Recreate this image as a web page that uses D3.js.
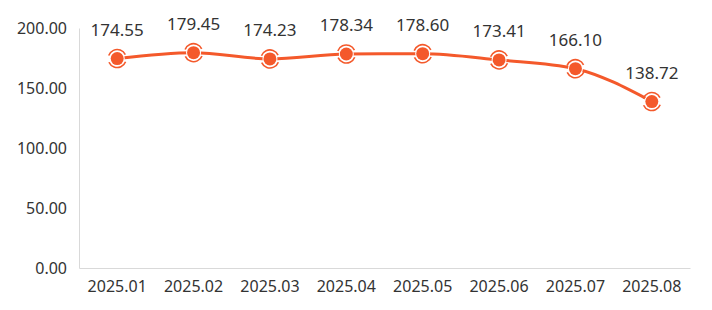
<!DOCTYPE html>
<html>
<head>
<meta charset="utf-8">
<script src="https://cdn.jsdelivr.net/npm/d3@7"></script>
<style>
  body { margin: 0; background: #fff; }
  text { font-family: "Noto Sans", "Open Sans", sans-serif; fill: #333; }
</style>
</head>
<body>
<div id="chart"></div>
<script>
// data
var months = ["2025.01", "2025.02", "2025.03", "2025.04", "2025.05", "2025.06", "2025.07", "2025.08"];
var values = [174.55, 179.45, 174.23, 178.34, 178.60, 173.41, 166.10, 138.72];
var yTicks = [0, 50, 100, 150, 200];

var svgWidth = 712;
var svgHeight = 310;

var margin = { top: 28, right: 22, bottom: 42, left: 79 };
var width = svgWidth - margin.left - margin.right;
var height = svgHeight - margin.top - margin.bottom;

var color = "#f4592b";

var svg = d3.select("#chart")
  .append("svg")
  .attr("width", svgWidth)
  .attr("height", svgHeight);

var chartGroup = svg.append("g")
  .attr("transform", `translate(${margin.left}, ${margin.top})`);

// scales
var xScale = d3.scaleBand()
  .domain(months)
  .range([0, width]);

var yScale = d3.scaleLinear()
  .domain([0, 200])
  .range([height, 0]);

var xPos = d => xScale(d) + xScale.bandwidth() / 2;

// y axis (labels only + left line)
var leftAxis = d3.axisLeft(yScale)
  .tickValues(yTicks)
  .tickFormat(d3.format(".2f"))
  .tickSize(0)
  .tickPadding(12);

var yAxis = chartGroup.append("g").call(leftAxis);
yAxis.select(".domain").attr("stroke", "#d9d9d9");
yAxis.selectAll("text").attr("font-size", "16px").attr("fill", "#333");

// x axis
var bottomAxis = d3.axisBottom(xScale)
  .tickSize(0)
  .tickPadding(13);

var xAxis = chartGroup.append("g")
  .attr("transform", `translate(0, ${height})`)
  .call(bottomAxis);
xAxis.select(".domain").attr("stroke", "#d9d9d9");
xAxis.selectAll("text").attr("font-size", "16px").attr("fill", "#333");

// line
var line = d3.line()
  .x((d, i) => xPos(months[i]))
  .y(d => yScale(d))
  .curve(d3.curveMonotoneX);

chartGroup.append("path")
  .datum(values)
  .attr("fill", "none")
  .attr("stroke", color)
  .attr("stroke-width", 3)
  .attr("d", line);

// markers
var markers = chartGroup.selectAll(".marker")
  .data(values)
  .enter()
  .append("g")
  .attr("class", "marker")
  .attr("transform", (d, i) => `translate(${xPos(months[i])}, ${yScale(d)})`);

markers.append("circle")
  .attr("r", 9)
  .attr("fill", "none")
  .attr("stroke", color)
  .attr("stroke-width", 1.6)
  .attr("stroke-dasharray", "21 7.3")
  .attr("transform", "rotate(-160)");

markers.append("circle")
  .attr("r", 7.5)
  .attr("fill", "#fff");

markers.append("circle")
  .attr("r", 6.5)
  .attr("fill", color);

// value labels
chartGroup.selectAll(".valueLabel")
  .data(values)
  .enter()
  .append("text")
  .attr("class", "valueLabel")
  .attr("x", (d, i) => xPos(months[i]))
  .attr("y", d => yScale(d) - 23)
  .attr("text-anchor", "middle")
  .attr("font-size", "17px")
  .text(d => d.toFixed(2));
</script>
</body>
</html>
